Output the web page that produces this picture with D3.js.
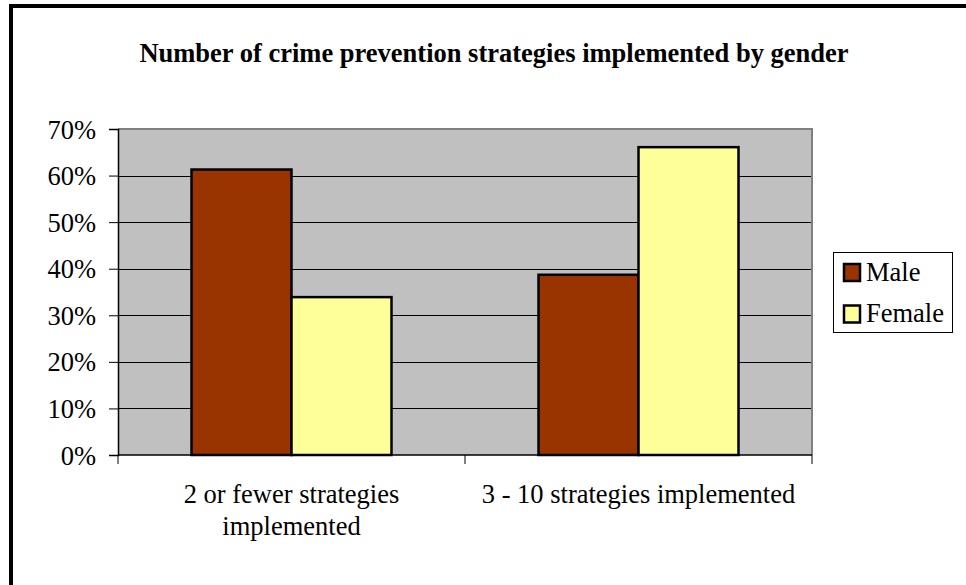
<!DOCTYPE html>
<html>
<head>
<meta charset="utf-8">
<script src="https://cdn.jsdelivr.net/npm/d3@7"></script>
<style>
  html, body { margin: 0; padding: 0; background: #fff; }
  svg { display: block; }
  svg text { font-family: "Liberation Serif", Tinos, "Times New Roman", Times, "DejaVu Serif", serif !important; fill: #000; }
</style>
</head>
<body>
<svg id="chart" width="966" height="585"></svg>
<script>
const title = "Number of crime prevention strategies implemented by gender";
const categories = ["2 or fewer strategies implemented", "3 - 10 strategies implemented"];
const categoryLines = [["2 or fewer strategies", "implemented"], ["3 - 10 strategies implemented"]];
const seriesNames = ["Male", "Female"];
const maleValues = [0.613, 0.387];
const femaleValues = [0.339, 0.661];
const yTicks = [0, 0.1, 0.2, 0.3, 0.4, 0.5, 0.6, 0.7];
const colors = ["#993300", "#FFFF99"];

const FONT = '"Liberation Serif", Tinos, "Times New Roman", Times, "DejaVu Serif", serif';
const svg = d3.select("#chart");
const plot = { left: 118, right: 812, top: 129, bottom: 455 };

// outer frame (only top/left visible)
svg.append("rect").attr("x", 11).attr("y", 6).attr("width", 1000).attr("height", 1000)
  .attr("fill", "#fff").attr("stroke", "#000").attr("stroke-width", 4);

// title
svg.append("text").attr("x", 494).attr("y", 62).attr("text-anchor", "middle")
  .attr("font-family", FONT)
  .attr("font-size", 26.5).attr("font-weight", "bold").text(title);

const x0 = d3.scaleBand().domain(categories).range([plot.left, plot.right]).paddingInner(0).paddingOuter(0);
const x1 = d3.scaleBand().domain(seriesNames).range([0, x0.bandwidth()]).paddingInner(0).paddingOuter(0.735);
const y = d3.scaleLinear().domain([0, 0.7]).range([plot.bottom, plot.top]);

// plot area background
svg.append("rect").attr("x", plot.left).attr("y", plot.top)
  .attr("width", plot.right - plot.left).attr("height", plot.bottom - plot.top)
  .attr("fill", "#C0C0C0");

// gridlines
svg.append("g").selectAll("line").data(yTicks.filter(t => t > 0 && t < 0.7)).join("line")
  .attr("x1", plot.left).attr("x2", plot.right)
  .attr("y1", d => Math.round(y(d)) + 0.5).attr("y2", d => Math.round(y(d)) + 0.5)
  .attr("stroke", "#000").attr("stroke-width", 1);

// plot border (top & right gray)
svg.append("path")
  .attr("d", `M${plot.left},${plot.top} H${plot.right} V${plot.bottom}`)
  .attr("fill", "none").attr("stroke", "#808080").attr("stroke-width", 2);

// bars
const data = categories.map((c, i) => ({ cat: c, vals: [maleValues[i], femaleValues[i]] }));
const groups = svg.append("g").selectAll("g").data(data).join("g")
  .attr("transform", d => `translate(${x0(d.cat)},0)`);
groups.selectAll("rect").data(d => d.vals.map((v, j) => ({ s: seriesNames[j], v, j }))).join("rect")
  .attr("x", d => x1(d.s)).attr("width", x1.bandwidth())
  .attr("y", d => y(d.v)).attr("height", d => y(0) - y(d.v))
  .attr("fill", d => colors[d.j]).attr("stroke", "#000").attr("stroke-width", 2.5);

// y axis
const yAxis = d3.axisLeft(y).tickValues(yTicks).tickFormat(d3.format(".0%")).tickSize(9).tickPadding(13);
const gy = svg.append("g").attr("transform", `translate(${plot.left},0)`).call(yAxis)
  .attr("font-family", FONT).attr("font-size", 26.5);
gy.select(".domain").attr("stroke", "#000").attr("stroke-width", 1.5);
gy.selectAll(".tick line").attr("stroke", "#000");
gy.selectAll(".tick text").attr("fill", "#000").attr("dy", "0.34em");

// x axis
const xAxis = d3.axisBottom(x0).tickSize(0).tickFormat("");
const gx = svg.append("g").attr("transform", `translate(0,${plot.bottom})`).call(xAxis);
gx.select(".domain").attr("d", `M${plot.left},0H${plot.right}`).attr("stroke", "#000").attr("stroke-width", 1.5);
const bounds = categories.map(c => x0(c)).concat([x0(categories[categories.length - 1]) + x0.bandwidth()]);
gx.append("g").selectAll("line").data(bounds).join("line")
  .attr("x1", d => d).attr("x2", d => d).attr("y1", 0).attr("y2", 9)
  .attr("stroke", "#000").attr("stroke-width", 1);
// category labels
categories.forEach((c, i) => {
  const cx = x0(c) + x0.bandwidth() / 2;
  const t = svg.append("text").attr("x", cx).attr("y", 503)
    .attr("text-anchor", "middle").attr("font-family", FONT).attr("font-size", 26.5);
  categoryLines[i].forEach((ln, k) => {
    t.append("tspan").attr("x", cx).attr("dy", k === 0 ? 0 : 32).text(ln);
  });
});

// legend
const lg = svg.append("g");
lg.append("rect").attr("x", 833.5).attr("y", 252.5).attr("width", 119).attr("height", 80)
  .attr("fill", "#fff").attr("stroke", "#000").attr("stroke-width", 1);
seriesNames.forEach((s, i) => {
  const cy = 272.5 + i * 41.5;
  lg.append("rect").attr("x", 844).attr("y", cy - 8.5).attr("width", 16).attr("height", 17)
    .attr("fill", colors[i]).attr("stroke", "#000").attr("stroke-width", 2.5);
  lg.append("text").attr("x", 866).attr("y", cy + 8).attr("font-family", FONT).attr("font-size", 26.5).text(s);
});
</script>
</body>
</html>
